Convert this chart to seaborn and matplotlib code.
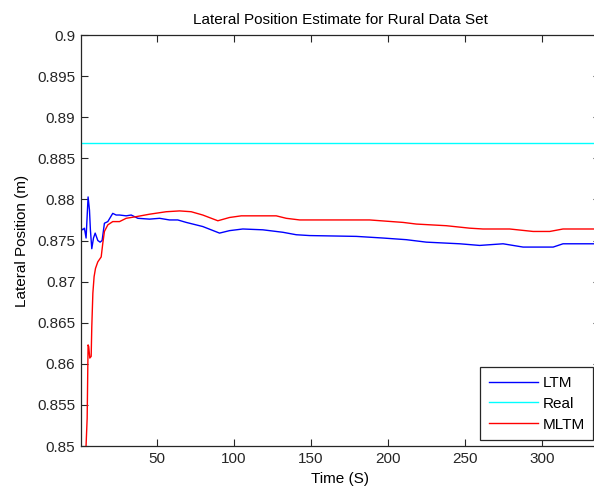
import numpy as np
import pandas as pd
import matplotlib
matplotlib.use("Agg")
import matplotlib.pyplot as plt
import seaborn as sns
from matplotlib.ticker import FuncFormatter

# LTM series (time, value)
ltm_t = [1, 2.1, 3.2, 4.3, 5.6, 6.5, 7.1, 8.0, 9.1, 10.2, 11.9, 13.4, 14.7, 16.2, 18.4,
         21.6, 23.8, 26, 30.3, 33.6, 37.9, 45.5, 52, 58.4, 63.8, 69.3, 80, 90.9, 97.4,
         106, 119, 132, 140.7, 149.4, 179.7, 197, 212.1, 225.1, 246.8, 259.7, 274.9,
         287.9, 307.4, 313.8, 337]
ltm_v = [0.8765, 0.8763, 0.8765, 0.8753, 0.8803, 0.8787, 0.8763, 0.8740, 0.8753, 0.8759,
         0.8750, 0.8748, 0.8750, 0.8771, 0.8773, 0.8783, 0.8781, 0.8781, 0.8780, 0.8781,
         0.8777, 0.8776, 0.8777, 0.8775, 0.8775, 0.8772, 0.8767, 0.8759, 0.8762, 0.8764,
         0.8763, 0.8760, 0.8757, 0.8756, 0.8755, 0.8753, 0.8751, 0.8748, 0.8746, 0.8744,
         0.8746, 0.8742, 0.8742, 0.8746, 0.8746]

# MLTM series (time, value)
mltm_t = [3.5, 4.3, 5.0, 5.6, 6.0, 6.7, 7.6, 8.0, 8.7, 9.5, 10.4, 11.9, 14.1, 15.1, 16.2,
          18.4, 21.6, 26, 30.3, 36.8, 45.5, 56.3, 65, 72.5, 80, 89.8, 97.4, 105, 127.7,
          134.2, 142.9, 188.3, 210, 218.6, 238, 253.2, 261.9, 279.2, 294.4, 305.2,
          313.8, 337]
mltm_v = [0.8450, 0.8501, 0.8534, 0.8623, 0.8621, 0.8607, 0.8609, 0.8645, 0.8686, 0.8706,
          0.8716, 0.8724, 0.8730, 0.8746, 0.8761, 0.8769, 0.8773, 0.8773, 0.8777, 0.8779,
          0.8782, 0.8785, 0.8786, 0.8785, 0.8781, 0.8774, 0.8778, 0.8780, 0.8780, 0.8777,
          0.8775, 0.8775, 0.8772, 0.8770, 0.8768, 0.8765, 0.8764, 0.8764, 0.8761, 0.8761,
          0.8764, 0.8764]

# Real (constant)
real_t = [1, 337]
real_v = [0.88685, 0.88685]

series_names = ["LTM", "Real", "MLTM"]
colors = {"LTM": "#0000ff", "Real": "#00ffff", "MLTM": "#ff0000"}

df = pd.concat([
    pd.DataFrame({"t": ltm_t, "v": ltm_v, "s": "LTM"}),
    pd.DataFrame({"t": real_t, "v": real_v, "s": "Real"}),
    pd.DataFrame({"t": mltm_t, "v": mltm_v, "s": "MLTM"}),
], ignore_index=True)

plt.rcParams["font.family"] = ["Liberation Sans", "DejaVu Sans"]
plt.rcParams["font.size"] = 11

W, H = 594, 493
fig = plt.figure(figsize=(W / 100, H / 100), dpi=100)
left, right, top, bottom = 81, 600, 35, 446
ax = fig.add_axes([left / W, (H - bottom) / H, (right - left) / W, (bottom - top) / H])

sns.lineplot(data=df, x="t", y="v", hue="s", hue_order=series_names, palette=colors,
             sort=False, estimator=None, linewidth=1.0, ax=ax)

ax.set_xlim(1, 337.8)
ax.set_ylim(0.85, 0.9)
ax.set_xticks([50, 100, 150, 200, 250, 300])
ax.set_yticks(np.arange(0.85, 0.9001, 0.005))
ax.yaxis.set_major_formatter(FuncFormatter(lambda v, p: f"{v:.3f}".rstrip("0").rstrip(".")))
ax.tick_params(direction="in", top=True, right=True, length=5, width=0.8, labelsize=11,
               colors="#262626", pad=4)
for sp in ax.spines.values():
    sp.set_linewidth(0.9)
    sp.set_color("#262626")

ax.set_title("Lateral Position Estimate for Rural Data Set", fontsize=11, pad=8)
ax.set_xlabel("Time (S)", fontsize=11, labelpad=5)
ax.set_ylabel("Lateral Position (m)", fontsize=11)
ax.yaxis.set_label_coords((29 - left) / (right - left), 0.5)

leg = ax.legend(loc="lower right", bbox_to_anchor=(593 / W, (H - 440) / H),
                bbox_transform=fig.transFigure, fancybox=False, edgecolor="#262626",
                framealpha=1, borderaxespad=0, handlelength=3.2, handletextpad=0.3,
                fontsize=11, labelspacing=0.45, borderpad=0.55)
leg.get_frame().set_linewidth(0.9)
leg.set_title(None)

fig.savefig("out.png", dpi=100, facecolor="white")
